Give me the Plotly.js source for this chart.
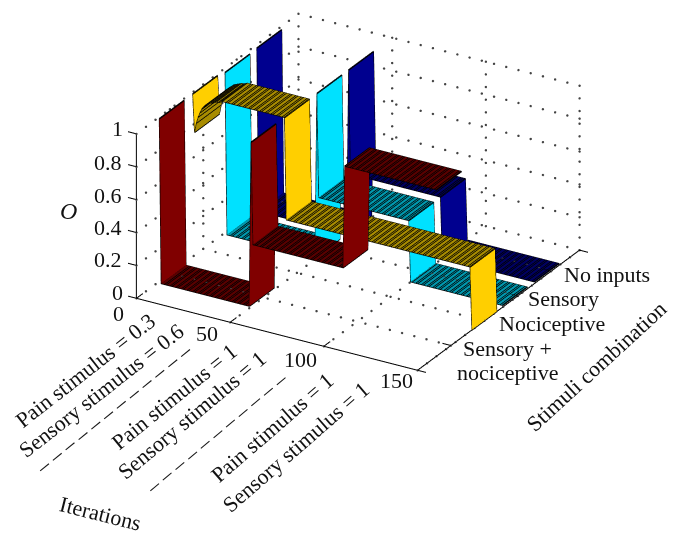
<!DOCTYPE html>
<html><head><meta charset="utf-8">
<script src="https://cdn.plot.ly/plotly-3.0.1.min.js"></script>
<style>html,body{margin:0;padding:0;background:#fff}#c{width:679px;height:546px}</style>
</head><body><div id="c"></div>
<script>
var W=679,H=546;
// ---- data (O value at iterations 1..150) ----
var sensoryNociceptive=[1,
0,0,0,0,0,0,0,0,0,0,0,0,0,0,0,0,0,0,0,0,0,0,0,0,0,0,0,0,0,0,0,0,0,0,0,0,0,0,0,0,0,0,0,0,0,0,0,0,
1,
.38,.38,.38,.38,.38,.38,.38,.38,.38,.38,.38,.38,.38,.38,.38,.38,.38,.38,.38,.38,.38,.38,.38,.38,.38,.38,.38,.38,.38,.38,.38,.38,.38,.38,.38,.38,.38,.38,.38,.38,.38,.38,.38,.38,.38,.38,.38,.38,.38,
1,1,1,1,1,1,1,1,1,1,1,1,1,1,1,1,1,1,1,1,1,1,1,1,1,1,1,1,1,1,1,1,1,1,1,1,1,1,1,1,1,1,1,1,1,1,1,1,1,1];
var nociceptive=[1,.77,.83,.87,.9,.925,.94,.95,.96,.97,.975,.98,.985,.99,.99,.995,1,
1,1,1,1,1,1,1,1,1,1,1,1,1,1,1,1,1,1,1,1,1,1,1,1,1,1,1,1,1,1,1,1,1,
.38,.38,.38,.38,.38,.38,.38,.38,.38,.38,.38,.38,.38,.38,.38,.38,.38,.38,.38,.38,.38,.38,.38,.38,.38,.38,.38,.38,.38,.38,.38,.38,.38,
.38,.38,.38,.38,.38,.38,.38,.38,.38,.38,.38,.38,.38,.38,.38,.38,.38,.38,.38,.38,.38,.38,.38,.38,.38,.38,.38,.38,.38,.38,.38,.38,.38,
.38,.38,.38,.38,.38,.38,.38,.38,.38,.38,.38,.38,.38,.38,.38,.38,.38,.38,.38,.38,.38,.38,.38,.38,.38,.38,.38,.38,.38,.38,.38,.38,.38,
0];
var sensory=[.985,
0,0,0,0,0,0,0,0,0,0,0,0,0,0,0,0,0,0,0,0,0,0,0,0,0,0,0,0,0,0,0,0,0,0,0,0,0,0,0,0,0,0,0,0,0,0,0,0,
1,
.37,.37,.37,.37,.37,.37,.37,.37,.37,.37,.37,.37,.37,.37,.37,.37,.37,.37,.37,.37,.37,.37,.37,.37,.37,.37,.37,.37,.37,.37,.37,.37,.37,.37,.37,.37,.37,.37,.37,.37,.37,.37,.37,.37,.37,.37,.37,.37,.37,
0,0,0,0,0,0,0,0,0,0,0,0,0,0,0,0,0,0,0,0,0,0,0,0,0,0,0,0,0,0,0,0,0,0,0,0,0,0,0,0,0,0,0,0,0,0,0,0,0,0];
var noInputs=[.99,
0,0,0,0,0,0,0,0,0,0,0,0,0,0,0,0,0,0,0,0,0,0,0,0,0,0,0,0,0,0,0,0,0,0,0,0,0,0,0,0,0,0,0,0,0,0,0,0,
1,
.37,.37,.37,.37,.37,.37,.37,.37,.37,.37,.37,.37,.37,.37,.37,.37,.37,.37,.37,.37,.37,.37,.37,.37,.37,.37,.37,.37,.37,.37,.37,.37,.37,.37,.37,.37,.37,.37,.37,.37,.37,.37,.37,.37,.37,.37,.37,.37,.37,
0,0,0,0,0,0,0,0,0,0,0,0,0,0,0,0,0,0,0,0,0,0,0,0,0,0,0,0,0,0,0,0,0,0,0,0,0,0,0,0,0,0,0,0,0,0,0,0,0,0];
var seriesColors=['#800000','#ffcf00','#00e1ff','#00008f'];
var flatColors=['#5a0000','#a88c00','#0098ae','#000062'];
var zTicks=[0,.2,.4,.6,.8,1];
var xTicks=[0,50,100,150];
var yTicks=[1,2,3,4];
var series=[sensoryNociceptive,nociceptive,sensory,noInputs];
var seriesY=[1,2,2.97,3.92];
var XMAX=150,YMAX=4.85,HW=.375;

var traces=[];
series.forEach(function(vals,s){
  var yc=seriesY[s],x=[],y=[],z=[],ii=[],jj=[],kk=[],fc=[];
  var lx=[],ly=[],lz=[],ex=[],ey=[],ez=[];
  vals.forEach(function(v,n){
    var it=n+1;
    x.push(it,it);y.push(yc-HW,yc+HW);z.push(v,v);
    if(n>0){
      var a=2*(n-1),b=a+1,c=a+2,d=a+3;ii.push(a,b);jj.push(b,d);kk.push(c,c);
      var col=Math.abs(vals[n-1]-v)>.15?seriesColors[s]:flatColors[s];fc.push(col,col);
    }
    var jump=(n>0&&vals[n-1]!==v)||(n<vals.length-1&&vals[n+1]!==v);
    if(it%3!==0||jump){lx.push(it,it,null);ly.push(yc-HW,yc+HW,null);lz.push(v,v,null);}
  });
  [yc-HW,yc+HW].forEach(function(e){
    vals.forEach(function(v,n){ex.push(n+1);ey.push(e);ez.push(v);});
    ex.push(null);ey.push(null);ez.push(null);
  });
  traces.push({type:'mesh3d',x:x,y:y,z:z,i:ii,j:jj,k:kk,facecolor:fc,flatshading:true,
    lighting:{ambient:1,diffuse:0,specular:0,roughness:1,fresnel:0},hoverinfo:'skip',showscale:false});
  traces.push({type:'scatter3d',mode:'lines',x:lx,y:ly,z:lz,connectgaps:false,line:{color:'#000',width:3},hoverinfo:'skip',showlegend:false});
  traces.push({type:'scatter3d',mode:'lines',x:ex,y:ey,z:ez,connectgaps:false,line:{color:'#000',width:1.4},hoverinfo:'skip',showlegend:false});
});

var ax={x:[],y:[],z:[]};
function seg(a,b){ax.x.push(a[0],b[0],null);ax.y.push(a[1],b[1],null);ax.z.push(a[2],b[2],null);}
seg([0,0,0],[XMAX,0,0]);seg([XMAX,0,0],[XMAX,YMAX,0]);seg([0,0,0],[0,0,1]);
var tx=4.5,ty=.19;
zTicks.forEach(function(v){seg([0,0,v],[-tx,0,v]);});
xTicks.forEach(function(v){seg([v,0,0],[v,ty,0]);});
yTicks.forEach(function(v){seg([XMAX,v,0],[XMAX-tx,v,0]);});
seg([XMAX,0,0],[XMAX+tx,0,0]);seg([XMAX,YMAX,0],[XMAX+tx,YMAX,0]);
traces.push({type:'scatter3d',mode:'lines',x:ax.x,y:ax.y,z:ax.z,connectgaps:false,line:{color:'#000',width:2},hoverinfo:'skip',showlegend:false});

var gx=[],gy=[],gz=[],NX=23,NY=17,NZ=13;
function dots(a,b,n){for(var i=0;i<=n;i++){var t=i/n;gx.push(a[0]+(b[0]-a[0])*t);gy.push(a[1]+(b[1]-a[1])*t);gz.push(a[2]+(b[2]-a[2])*t);}}
zTicks.forEach(function(v){dots([0,0,v],[0,YMAX,v],NY);dots([0,YMAX,v],[XMAX,YMAX,v],NX);});
yTicks.forEach(function(v){dots([0,v,0],[0,v,1],NZ);dots([0,v,0],[XMAX,v,0],NX);});
xTicks.forEach(function(v){dots([v,YMAX,0],[v,YMAX,1],NZ);if(v>0)dots([v,0,0],[v,YMAX,0],NY);});
traces.push({type:'scatter3d',mode:'markers',x:gx,y:gy,z:gz,marker:{color:'#444',size:1.4,line:{width:0}},hoverinfo:'skip',showlegend:false});

var FONT='"Liberation Serif",serif',FS=22;
var labels=[
['1',117,128,0],['0.8',108,162,0],['0.6',108,195,0],['0.4',108,227,0],['0.2',108,259,0],['0',117,292,0],
['0',118,313,0],['50',207,333,0],['100',300,359,0],['150',396,380,0],
['Pain stimulus = 0.3',85,370,-38],['Sensory stimulus = 0.6',101,390,-38],['– – – – – – – – – – – –',113,408,-39],
['Pain stimulus = 1',174,396,-39],['Sensory stimulus = 1',191,415,-40],['– – – – – – – – – – –',216,432,-40],
['Pain stimulus = 1',272,427,-41],['Sensory stimulus = 1',295,447,-41],
['Iterations',100,513,14],
['No inputs',607,274,0],['Sensory',563,298,0],['Nociceptive',552,323,0],['Sensory +',507,348,0],['nociceptive',507,372,0],
['Stimuli combination',596,366,-42.5]
];
var ann=labels.map(function(l){return {text:l[0],x:l[1]/W,y:1-l[2]/H,xref:'paper',yref:'paper',xanchor:'center',yanchor:'middle',textangle:l[3],showarrow:false,font:{family:FONT,size:FS,color:'#111'}};});
ann.push({text:'<i>O</i>',x:68/W,y:1-211/H,xref:'paper',yref:'paper',xanchor:'center',yanchor:'middle',showarrow:false,font:{family:FONT,size:24,color:'#111'}});

var cx=357.5,cy=191.5,hh=189,hw=320;
var d=1.6,e=[.456,-.776,.4357],S=1.725,Sz=1.74;
function hidden(range){return {range:range,visible:false,showgrid:false,showline:false,zeroline:false,showticklabels:false,ticks:'',showbackground:false,showspikes:false,title:{text:''}};}
var layout={width:W,height:H,margin:{l:0,r:0,t:0,b:0},paper_bgcolor:'#fff',showlegend:false,annotations:ann,
 scene:{domain:{x:[Math.max(0,(cx-hw)/W),(cx+hw)/W],y:[1-(cy+hh)/H,1-(cy-hh)/H]},
  bgcolor:'#fff',
  xaxis:hidden([-10,160]),yaxis:hidden([-.4,5.25]),zaxis:hidden([-.06,1.06]),
  aspectmode:'manual',aspectratio:{x:1.1333*S,y:1.1428*S,z:.6222*Sz},
  camera:{projection:{type:'orthographic'},up:{x:0,y:0,z:1},center:{x:0,y:0,z:0},eye:{x:e[0]*d,y:e[1]*d,z:e[2]*d}}}};
Plotly.newPlot('c',traces,layout,{displayModeBar:false,responsive:false});
</script></body></html>
